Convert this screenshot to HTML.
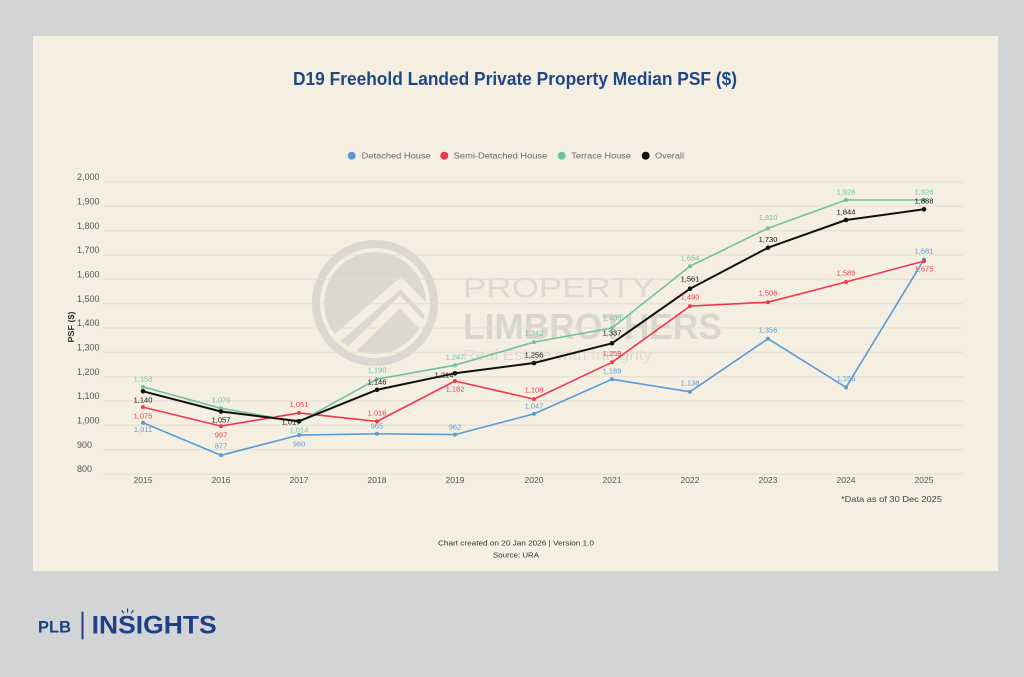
<!DOCTYPE html>
<html>
<head>
<meta charset="utf-8">
<style>
  html, body { margin: 0; padding: 0; width: 1024px; height: 677px; overflow: hidden; background: #d3d4d6; }
  svg { display: block; }
  text { font-family: "Liberation Sans", sans-serif; }
</style>
</head>
<body>
<svg width="1024" height="677" viewBox="0 0 1024 677" xmlns="http://www.w3.org/2000/svg">
  <rect x="0" y="0" width="1024" height="677" fill="#d3d4d6"/>
  <rect x="33" y="36" width="965" height="535" fill="#f5efe2"/>

  <!-- Title -->
  <text x="293" y="85" font-size="18.5" font-weight="bold" fill="#1f4788" textLength="444" lengthAdjust="spacingAndGlyphs">D19 Freehold Landed Private Property Median PSF ($)</text>

  <!-- Legend -->
  <g font-size="8" fill="#666">
    <circle cx="351.7" cy="155.7" r="4" fill="#5b9bd5"/>
    <text x="361.7" y="158.6" textLength="69" lengthAdjust="spacingAndGlyphs">Detached House</text>
    <circle cx="444.3" cy="155.7" r="4" fill="#ee3a4c"/>
    <text x="453.7" y="158.6" textLength="93.6" lengthAdjust="spacingAndGlyphs">Semi-Detached House</text>
    <circle cx="561.7" cy="155.7" r="4" fill="#6fc39b"/>
    <text x="571.3" y="158.6" textLength="59.7" lengthAdjust="spacingAndGlyphs">Terrace House</text>
    <circle cx="645.7" cy="155.7" r="4" fill="#111"/>
    <text x="655" y="158.6" textLength="29" lengthAdjust="spacingAndGlyphs">Overall</text>
  </g>

  <!-- Watermark -->
  <defs>
    <clipPath id="disc"><circle cx="375" cy="303" r="51"/></clipPath>
  </defs>
  <g>
    <circle cx="375" cy="303" r="59" fill="none" stroke="#dad8d0" stroke-width="8"/>
    <g clip-path="url(#disc)">
      <circle cx="375" cy="303" r="51" fill="#dad8d0"/>
      <polyline points="300,370 401,283 460,345" fill="none" stroke="#f5efe2" stroke-width="9"/>
      <polyline points="305,395 400,302 460,365" fill="none" stroke="#f5efe2" stroke-width="9"/>
    </g>
    <text x="463" y="297" font-size="28" fill="#dcd9d1" textLength="192" lengthAdjust="spacingAndGlyphs">PROPERTY</text>
    <text x="463" y="339" font-size="36" font-weight="bold" fill="#d9d6ce" textLength="259" lengthAdjust="spacingAndGlyphs">LIMBROTHERS</text>
    <text x="463" y="360" font-size="15" fill="#dedad2" textLength="189" lengthAdjust="spacingAndGlyphs">Real Estate with Integrity</text>
  </g>

  <!-- Gridlines -->
  <g stroke="#e4ddcf" stroke-width="1">
    <line x1="103" x2="963" y1="182" y2="182"/>
    <line x1="103" x2="963" y1="206.3" y2="206.3"/>
    <line x1="103" x2="963" y1="230.7" y2="230.7"/>
    <line x1="103" x2="963" y1="255" y2="255"/>
    <line x1="103" x2="963" y1="279.3" y2="279.3"/>
    <line x1="103" x2="963" y1="303.7" y2="303.7"/>
    <line x1="103" x2="963" y1="328" y2="328"/>
    <line x1="103" x2="963" y1="352.3" y2="352.3"/>
    <line x1="103" x2="963" y1="376.7" y2="376.7"/>
    <line x1="103" x2="963" y1="401" y2="401"/>
    <line x1="103" x2="963" y1="425.3" y2="425.3"/>
    <line x1="103" x2="963" y1="449.7" y2="449.7"/>
    <line x1="103" x2="963" y1="474" y2="474"/>
  </g>

  <!-- Y labels -->
  <g font-size="9" fill="#555">
    <text x="77" y="180.2">2,000</text>
    <text x="77" y="204.5">1,900</text>
    <text x="77" y="228.9">1,800</text>
    <text x="77" y="253.2">1,700</text>
    <text x="77" y="277.5">1,600</text>
    <text x="77" y="301.9">1,500</text>
    <text x="77" y="326.2">1,400</text>
    <text x="77" y="350.5">1,300</text>
    <text x="77" y="374.9">1,200</text>
    <text x="77" y="399.2">1,100</text>
    <text x="77" y="423.5">1,000</text>
    <text x="77" y="447.9">900</text>
    <text x="77" y="472.2">800</text>
  </g>
  <text transform="translate(74,327) rotate(-90)" text-anchor="middle" font-size="8" font-weight="bold" fill="#333" textLength="31" lengthAdjust="spacingAndGlyphs">PSF ($)</text>

  <!-- X labels -->
  <g font-size="8.5" fill="#555" text-anchor="middle">
    <text x="143" y="483">2015</text>
    <text x="221" y="483">2016</text>
    <text x="299" y="483">2017</text>
    <text x="377" y="483">2018</text>
    <text x="455" y="483">2019</text>
    <text x="534" y="483">2020</text>
    <text x="612" y="483">2021</text>
    <text x="690" y="483">2022</text>
    <text x="768" y="483">2023</text>
    <text x="846" y="483">2024</text>
    <text x="924" y="483">2025</text>
  </g>

  <!-- Series lines -->
  <polyline fill="none" stroke="#5b9bd5" stroke-width="1.6" stroke-linejoin="round"
    points="143,422.7 221,455.3 299,435.1 377,433.8 455,434.6 534,413.9 612,379.3 690,391.8 768,338.7 846,387.4 924,259.6"/>
  <polyline fill="none" stroke="#ee3a4c" stroke-width="1.6" stroke-linejoin="round"
    points="143,407.1 221,426.1 299,412.9 377,421.4 455,381 534,399.1 612,362.3 690,306.1 768,302.2 846,282 924,261.1"/>
  <polyline fill="none" stroke="#6fc39b" stroke-width="1.6" stroke-linejoin="round"
    points="143,386.9 221,408.3 299,421.9 377,379.1 455,365.2 534,342.1 612,328 690,266.2 768,228.2 846,200 924,200"/>
  <polyline fill="none" stroke="#111" stroke-width="2" stroke-linejoin="round"
    points="143,391.3 221,411.5 299,421.2 377,389.8 455,373.3 534,363 612,343.3 690,288.8 768,247.7 846,220 924,209.3"/>

  <!-- Markers -->
  <g fill="#5b9bd5">
    <circle cx="143" cy="422.7" r="2"/><circle cx="221" cy="455.3" r="2"/><circle cx="299" cy="435.1" r="2"/><circle cx="377" cy="433.8" r="2"/><circle cx="455" cy="434.6" r="2"/><circle cx="534" cy="413.9" r="2"/><circle cx="612" cy="379.3" r="2"/><circle cx="690" cy="391.8" r="2"/><circle cx="768" cy="338.7" r="2"/><circle cx="846" cy="387.4" r="2"/><circle cx="924" cy="259.6" r="2"/>
  </g>
  <g fill="#ee3a4c">
    <circle cx="143" cy="407.1" r="2"/><circle cx="221" cy="426.1" r="2"/><circle cx="299" cy="412.9" r="2"/><circle cx="377" cy="421.4" r="2"/><circle cx="455" cy="381" r="2"/><circle cx="534" cy="399.1" r="2"/><circle cx="612" cy="362.3" r="2"/><circle cx="690" cy="306.1" r="2"/><circle cx="768" cy="302.2" r="2"/><circle cx="846" cy="282" r="2"/><circle cx="924" cy="261.1" r="2"/>
  </g>
  <g fill="#6fc39b">
    <circle cx="143" cy="386.9" r="2"/><circle cx="221" cy="408.3" r="2"/><circle cx="299" cy="421.9" r="2"/><circle cx="377" cy="379.1" r="2"/><circle cx="455" cy="365.2" r="2"/><circle cx="534" cy="342.1" r="2"/><circle cx="612" cy="328" r="2"/><circle cx="690" cy="266.2" r="2"/><circle cx="768" cy="228.2" r="2"/><circle cx="846" cy="200" r="2"/><circle cx="924" cy="200" r="2"/>
  </g>
  <g fill="#111">
    <circle cx="143" cy="391.3" r="2.3"/><circle cx="221" cy="411.5" r="2.3"/><circle cx="299" cy="421.2" r="2.3"/><circle cx="377" cy="389.8" r="2.3"/><circle cx="455" cy="373.3" r="2.3"/><circle cx="534" cy="363" r="2.3"/><circle cx="612" cy="343.3" r="2.3"/><circle cx="690" cy="288.8" r="2.3"/><circle cx="768" cy="247.7" r="2.3"/><circle cx="846" cy="220" r="2.3"/><circle cx="924" cy="209.3" r="2.3"/>
  </g>

  <!-- Data labels -->
  <g font-size="7.5" text-anchor="middle" fill="#5b9bd5">
    <text x="143" y="432">1,011</text>
    <text x="221" y="448.7">877</text>
    <text x="299" y="446.7">960</text>
    <text x="377" y="428.4">965</text>
    <text x="455" y="429.4">962</text>
    <text x="534" y="408.4">1,047</text>
    <text x="612" y="373.7">1,189</text>
    <text x="690" y="385.4">1,138</text>
    <text x="768" y="332.7">1,356</text>
    <text x="846" y="381">1,156</text>
    <text x="924" y="253.4">1,681</text>
  </g>
  <g font-size="7.5" text-anchor="middle" fill="#ee3a4c">
    <text x="143" y="418.7">1,075</text>
    <text x="221" y="437.7">997</text>
    <text x="299" y="407">1,051</text>
    <text x="377" y="415.7">1,016</text>
    <text x="455" y="391.7">1,182</text>
    <text x="534" y="392.7">1,108</text>
    <text x="612" y="356">1,259</text>
    <text x="690" y="299.4">1,490</text>
    <text x="768" y="295.4">1,506</text>
    <text x="846" y="275.4">1,589</text>
    <text x="924" y="271.7">1,675</text>
  </g>
  <g font-size="7.5" text-anchor="middle" fill="#6fc39b">
    <text x="143" y="381.7">1,158</text>
    <text x="221" y="402.7">1,070</text>
    <text x="299" y="432.7">1,014</text>
    <text x="377" y="372.7">1,190</text>
    <text x="455" y="359.4">1,247</text>
    <text x="534" y="335.4">1,342</text>
    <text x="612" y="320.7">1,400</text>
    <text x="690" y="260.4">1,654</text>
    <text x="768" y="220">1,810</text>
    <text x="846" y="194.4">1,926</text>
    <text x="924" y="194.4">1,926</text>
  </g>
  <g font-size="7.5" text-anchor="middle" fill="#111">
    <text x="143" y="402.7">1,140</text>
    <text x="221" y="422.7">1,057</text>
    <text x="291" y="424.4">1,017</text>
    <text x="377" y="384.7">1,146</text>
    <text x="444" y="377.7">1,214</text>
    <text x="534" y="357.7">1,256</text>
    <text x="612" y="335.7">1,337</text>
    <text x="690" y="281.4">1,561</text>
    <text x="768" y="242">1,730</text>
    <text x="846" y="214.4">1,844</text>
    <text x="924" y="203.4">1,888</text>
  </g>

  <!-- Notes -->
  <text x="841" y="502" font-size="8.5" fill="#444" textLength="101" lengthAdjust="spacingAndGlyphs">*Data as of 30 Dec 2025</text>
  <text x="516" y="545.5" font-size="7.5" fill="#333" text-anchor="middle" textLength="156" lengthAdjust="spacingAndGlyphs">Chart created on 20 Jan 2026 | Version 1.0</text>
  <text x="516" y="557.5" font-size="7.5" fill="#333" text-anchor="middle" textLength="46" lengthAdjust="spacingAndGlyphs">Source: URA</text>

  <!-- Footer logo -->
  <text x="38" y="632.7" font-size="16.5" font-weight="bold" fill="#1f3f86" textLength="33" lengthAdjust="spacingAndGlyphs">PLB</text>
  <rect x="81.5" y="611.7" width="2" height="27.6" fill="#1f3f86"/>
  <text x="91.7" y="633.3" font-size="25" font-weight="bold" fill="#1f3f86" textLength="125" lengthAdjust="spacingAndGlyphs">INSIGHTS</text>
  <g stroke="#1f3f86" stroke-width="1.2" stroke-linecap="round">
    <line x1="127.5" y1="609" x2="127.5" y2="612"/>
    <line x1="122" y1="610.5" x2="123.5" y2="613"/>
    <line x1="133" y1="610.5" x2="131.5" y2="613"/>
  </g>
</svg>
</body>
</html>
